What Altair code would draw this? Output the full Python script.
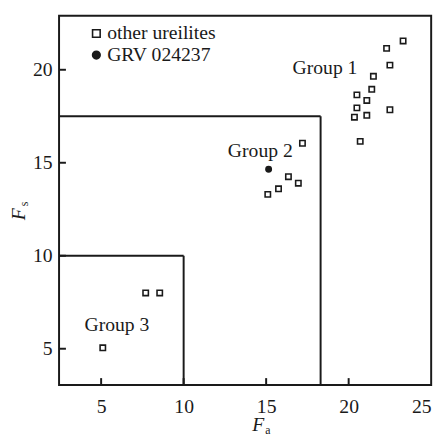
import altair as alt
import pandas as pd

# ---- data ----
g1_x = [23.3, 22.3, 22.5, 21.5, 21.4, 20.5, 21.1, 20.5, 20.35, 21.1, 22.5, 20.7]
g1_y = [21.55, 21.15, 20.25, 19.65, 18.95, 18.65, 18.35, 17.95, 17.45, 17.55, 17.85, 16.15]
g2_x = [17.2, 16.35, 16.95, 15.75, 15.1]
g2_y = [16.05, 14.25, 13.9, 13.6, 13.3]
g3_x = [7.7, 8.55, 5.1]
g3_y = [8.0, 8.0, 5.05]
grv_x = [15.15]
grv_y = [14.65]

series = ["other ureilites", "GRV 024237"]

box_x = [10.0, 18.3]
box_y = [10.0, 17.5]

x_domain = [2.45, 25.0]
y_domain = [3.05, 22.9]
tick_vals = [5, 10, 15, 20]

label_text = ["Group 1", "Group 2", "Group 3"]
label_x = [16.6, 12.68, 3.99]
label_y = [20.1, 15.63, 6.26]

FONT = "Liberation Serif, Times New Roman, serif"
FS = 20
INK = "#1a1a1a"
W, H = 379, 376

pts = pd.DataFrame({
    "x": g1_x + g2_x + g3_x + grv_x,
    "y": g1_y + g2_y + g3_y + grv_y,
    "kind": [series[0]] * (len(g1_x) + len(g2_x) + len(g3_x)) + [series[1]] * len(grv_x),
})
boxes = pd.DataFrame({"bx": box_x, "by": box_y, "x0": [x_domain[0]] * 2, "y0": [y_domain[0]] * 2})
labels = pd.DataFrame({"t": label_text, "x": label_x, "y": label_y})
ticks = pd.DataFrame({"v": tick_vals})

xs = alt.Scale(domain=x_domain, nice=False, zero=False)
ys = alt.Scale(domain=y_domain, nice=False, zero=False)

xax = alt.Axis(values=tick_vals + [25], ticks=False, domain=False, grid=False, labelFont=FONT,
               labelFontSize=FS, labelColor=INK, labelPadding=12, title=None)
yax = alt.Axis(values=tick_vals, ticks=False, domain=False, grid=False, labelFont=FONT,
               labelFontSize=FS, labelColor=INK, labelPadding=7, title=None)

points = alt.Chart(pts).mark_point(filled=True, strokeWidth=1.6, opacity=1).encode(
    x=alt.X("x:Q", scale=xs, axis=xax),
    y=alt.Y("y:Q", scale=ys, axis=yax),
    shape=alt.Shape("kind:N", scale=alt.Scale(domain=series, range=["square", "circle"]),
                    legend=alt.Legend(title=None, orient="none", legendX=28, legendY=8,
                                      labelFont=FONT, labelFontSize=FS, labelColor=INK,
                                      labelOffset=1, rowPadding=2, padding=0,
                                      symbolStrokeWidth=1.6, symbolSize=60)),
    fill=alt.Fill("kind:N", scale=alt.Scale(domain=series, range=["white", INK]), legend=None),
    stroke=alt.Stroke("kind:N", scale=alt.Scale(domain=series, range=[INK, INK]), legend=None),
)

hrules = alt.Chart(boxes).mark_rule(color=INK, strokeWidth=2).encode(
    x=alt.X("x0:Q", scale=xs), x2="bx:Q", y=alt.Y("by:Q", scale=ys))
vrules = alt.Chart(boxes).mark_rule(color=INK, strokeWidth=2).encode(
    x=alt.X("bx:Q", scale=xs), y=alt.Y("y0:Q", scale=ys), y2="by:Q")

xticks = alt.Chart(ticks).mark_rule(color=INK, strokeWidth=2).encode(
    x=alt.X("v:Q", scale=xs), y=alt.value(H), y2=alt.value(H - 7))
yticks = alt.Chart(ticks).mark_rule(color=INK, strokeWidth=2).encode(
    y=alt.Y("v:Q", scale=ys), x=alt.value(0), x2=alt.value(7))

glabels = alt.Chart(labels).mark_text(font=FONT, fontSize=FS, color=INK, align="left",
                                       baseline="middle").encode(
    x=alt.X("x:Q", scale=xs), y=alt.Y("y:Q", scale=ys), text="t:N")

title_df = pd.DataFrame({"t": ["F"]})
xt_F = alt.Chart(title_df).mark_text(font=FONT, fontSize=FS, fontStyle="italic", color=INK,
                                     align="center", baseline="alphabetic").encode(
    text="t:N", x=alt.value(203), y=alt.value(423))
xt_a = alt.Chart(pd.DataFrame({"t": ["a"]})).mark_text(font=FONT, fontSize=12, color=INK,
                                                      align="left", baseline="alphabetic").encode(
    text="t:N", x=alt.value(210), y=alt.value(426))
yt_F = alt.Chart(title_df).mark_text(font=FONT, fontSize=FS, fontStyle="italic", color=INK,
                                     align="center", baseline="alphabetic", angle=270).encode(
    text="t:N", x=alt.value(-35), y=alt.value(202))
yt_s = alt.Chart(pd.DataFrame({"t": ["s"]})).mark_text(font=FONT, fontSize=12, color=INK,
                                                      align="left", baseline="alphabetic", angle=270).encode(
    text="t:N", x=alt.value(-32), y=alt.value(194))

chart = alt.layer(hrules, vrules, xticks, yticks, points, glabels, xt_F, xt_a, yt_F, yt_s).properties(
    width=W, height=H,
    background="white",
    autosize=alt.AutoSizeParams(type="none"),
    padding={"left": 52, "top": 4, "right": 9, "bottom": 50},
).configure_view(stroke=INK, strokeWidth=2)

chart.save("out.html", embed_options={"renderer": "svg", "actions": False})
